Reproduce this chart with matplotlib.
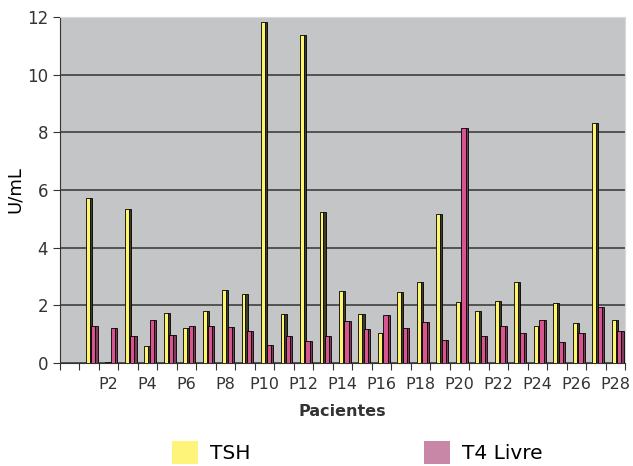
import numpy as np
import matplotlib
matplotlib.use("Agg")
import matplotlib.pyplot as plt
from matplotlib.patches import Patch

# values (P1..P28)
patients = ["P%d" % i for i in range(1, 29)]
tsh = [5.73, 0.05, 5.33, 0.58, 1.73, 1.21, 1.79, 2.54, 2.40, 11.83,
       1.71, 11.39, 5.23, 2.50, 1.70, 1.04, 2.47, 2.80, 5.18, 2.13,
       1.79, 2.16, 2.80, 1.27, 2.08, 1.38, 8.33, 1.48]
t4_livre = [1.27, 1.21, 0.95, 1.50, 0.98, 1.29, 1.30, 1.25, 1.10, 0.63,
            0.92, 0.78, 0.95, 1.44, 1.19, 1.65, 1.21, 1.43, 0.81, 8.16,
            0.92, 1.29, 1.04, 1.50, 0.73, 1.04, 1.93, 1.10]
yticks = [0, 2, 4, 6, 8, 10, 12]

fig = plt.figure(figsize=(6.33, 4.66), dpi=100)
ax = fig.add_axes([60 / 633, 1 - 363 / 466, 565 / 633, 346 / 466])
ax.set_facecolor("#c4c5c7")

# slot 0 is empty, patient n sits in slot [n, n+1]
x = np.arange(1, len(patients) + 1)

# yellow bars with dark side
ax.bar(x + 0.52, tsh, width=0.11, align="edge", color="#3c3c2c",
       edgecolor="black", linewidth=0.6, zorder=3)
ax.bar(x + 0.32, tsh, width=0.20, align="edge", color="#fff46e",
       edgecolor="black", linewidth=0.6, zorder=3)
# pink bars with dark side
ax.bar(x + 0.82, t4_livre, width=0.11, align="edge", color="#7d3d5a",
       edgecolor="black", linewidth=0.6, zorder=4)
ax.bar(x + 0.60, t4_livre, width=0.22, align="edge", color="#d9558f",
       edgecolor="black", linewidth=0.6, zorder=4)

ax.set_xlim(0, len(patients) + 1)
ax.set_ylim(0, 12)
ax.set_yticks(yticks)
ax.yaxis.grid(True, color="#4a4a4a", linewidth=1.3, zorder=1)
ax.set_axisbelow(True)

# tick marks at slot edges, labels on every other patient
ax.set_xticks(np.arange(0, len(patients) + 2))
ax.set_xticklabels([])
ax.set_xticks(x[1::2] + 0.5, minor=True)
ax.set_xticklabels(patients[1::2], minor=True)
ax.tick_params(axis="x", which="minor", length=0, pad=10, labelsize=11.5,
               colors="#333333")
ax.tick_params(axis="x", which="major", length=5, color="#333333")
ax.tick_params(axis="y", length=5, labelsize=12, colors="#333333")

for side in ["top", "right"]:
    ax.spines[side].set_color("#d8d8d8")
for side in ["left", "bottom"]:
    ax.spines[side].set_color("#333333")

ax.set_ylabel("U/mL", fontsize=13, labelpad=2)
ax.set_xlabel("Pacientes", fontsize=11.5, fontweight="bold", labelpad=9,
              color="#333333")

handles = [Patch(facecolor="#fff47a", edgecolor="none"),
           Patch(facecolor="#c987a7", edgecolor="none")]
fig.legend(handles, ["TSH", "T4 Livre"], loc="lower center", ncol=2,
           bbox_to_anchor=(0.565, -0.035), frameon=False, fontsize=14.5,
           handlelength=1.3, handleheight=1.4, handletextpad=0.6,
           columnspacing=8.6)

plt.savefig("out.png", dpi=100)
